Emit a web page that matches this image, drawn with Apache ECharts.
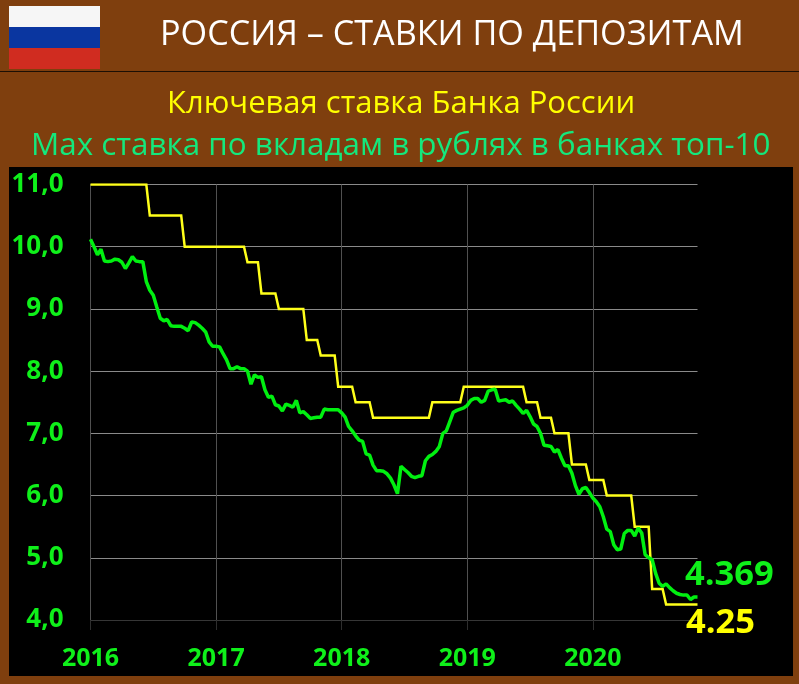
<!DOCTYPE html>
<html><head><meta charset="utf-8">
<style>html,body{margin:0;padding:0;background:#7f3f0e}#c{width:799px;height:684px}</style>
<script src="https://cdn.jsdelivr.net/npm/echarts@6/dist/echarts.min.js"></script>
</head><body><div id="c"></div>
<script>
const titleText = 'РОССИЯ – СТАВКИ ПО ДЕПОЗИТАМ';
const subtitleKey = 'Ключевая ставка Банка России';
const subtitleMax = 'Max ставка по вкладам в рублях в банках топ-10';
const lastDepositLabel = '4.369';
const lastKeyLabel = '4.25';
const years = [2016, 2017, 2018, 2019, 2020];
const keyRate = [
11,11,11,11,11,11,11,11,11,11,11,11,11,11,11,11,11,
10.5,10.5,10.5,10.5,10.5,10.5,10.5,10.5,10.5,10.5,
10,10,10,10,10,10,10,10,10,10,10,10,10,10,10,10,10,10,
9.75,9.75,9.75,9.75,
9.25,9.25,9.25,9.25,9.25,
9,9,9,9,9,9,9,9,
8.5,8.5,8.5,8.5,
8.25,8.25,8.25,8.25,8.25,
7.75,7.75,7.75,7.75,7.75,
7.5,7.5,7.5,7.5,7.5,
7.25,7.25,7.25,7.25,7.25,7.25,7.25,7.25,7.25,7.25,7.25,7.25,7.25,7.25,7.25,7.25,7.25,
7.5,7.5,7.5,7.5,7.5,7.5,7.5,7.5,7.5,
7.75,7.75,7.75,7.75,7.75,7.75,7.75,7.75,7.75,7.75,7.75,7.75,7.75,7.75,7.75,7.75,7.75,7.75,
7.5,7.5,7.5,7.5,
7.25,7.25,7.25,7.25,
7,7,7,7,7,
6.5,6.5,6.5,6.5,6.5,
6.25,6.25,6.25,6.25,6.25,
6,6,6,6,6,6,6,6,
5.5,5.5,5.5,5.5,5.5,
4.5,4.5,4.5,4.5,
4.25,4.25,4.25,4.25,4.25,4.25,4.25,4.25,4.25,4.25
];
const depositRate = [
10.12,10.0,9.87,9.96,9.77,9.76,9.77,9.8,9.79,9.75,9.65,9.74,9.84,9.77,9.76,9.76,9.44,9.3,9.22,9.03,
8.85,8.81,8.83,8.73,8.72,8.72,8.72,8.69,8.65,8.79,8.78,8.74,8.69,8.63,8.47,8.4,8.4,8.39,8.28,8.18,
8.04,8.04,8.07,8.04,8.04,8.0,7.79,7.94,7.9,7.91,7.7,7.58,7.6,7.46,7.44,7.36,7.47,7.45,7.42,7.53,
7.33,7.35,7.3,7.24,7.25,7.26,7.26,7.39,7.38,7.38,7.38,7.38,7.33,7.26,7.11,7.04,6.96,6.89,6.87,6.67,
6.65,6.49,6.4,6.4,6.39,6.35,6.28,6.17,6.03,6.47,6.42,6.37,6.31,6.29,6.31,6.32,6.56,6.63,6.66,6.71,
6.79,7.0,7.04,7.19,7.34,7.37,7.39,7.41,7.45,7.53,7.56,7.56,7.5,7.53,7.68,7.7,7.71,7.52,7.53,7.54,
7.5,7.52,7.45,7.39,7.32,7.37,7.27,7.15,7.11,7.0,6.81,6.8,6.79,6.7,6.74,6.6,6.48,6.48,6.36,6.16,
6.02,6.11,6.13,6.05,5.96,5.9,5.82,5.66,5.46,5.42,5.21,5.13,5.14,5.39,5.44,5.44,5.35,5.48,5.4,5.05,
5.0,4.97,4.75,4.59,4.54,4.58,4.52,4.47,4.43,4.41,4.4,4.4,4.33,4.37,4.369
];
const categories = depositRate.map((_, i) => String(years[0] + Math.floor(i / 36)));

const GREEN = '#0ff01a', YELLOW = '#ffff1a', BROWN = '#7f3f0e';
const FONT = '"Open Sans","Noto Sans",sans-serif';
const chart = echarts.init(document.getElementById('c'), null, {renderer: 'canvas'});
function txt(text, x, y, size, fill, weight) {
  return {type: 'text', z: 10, x, y,
    style: {text, fontFamily: FONT, fontSize: size, fill, fontWeight: weight || 'normal', textVerticalAlign: 'middle', textAlign: 'left'}};
}
chart.setOption({
  animation: false,
  backgroundColor: BROWN,
  grid: {left: 90.5, top: 184.5, width: 607, height: 435.5, containLabel: false},
  xAxis: {
    type: 'category', data: categories, boundaryGap: false,
    axisLine: {show: false},
    axisTick: {show: true, interval: 35, length: 10, lineStyle: {color: '#2e2e2e', width: 1}},
    axisLabel: {interval: 35, color: GREEN, fontFamily: FONT, fontWeight: 'bold', fontSize: 25, margin: 26, hideOverlap: false},
    splitLine: {show: true, interval: 35, lineStyle: {color: '#505050', width: 1}}
  },
  yAxis: {
    type: 'value', min: 4, max: 11, interval: 1,
    axisLine: {show: false}, axisTick: {show: false},
    axisLabel: {color: GREEN, fontFamily: FONT, fontWeight: 'bold', fontSize: 26, margin: 27,
      formatter: v => v.toFixed(1).replace('.', ',')},
    splitLine: {show: true, lineStyle: {color: ['#363636', '#8a8a8a', '#8a8a8a', '#8a8a8a', '#8a8a8a', '#8a8a8a', '#8a8a8a', '#8a8a8a'], width: 1}}
  },
  series: [
    {name: 'Ключевая ставка', type: 'line', data: keyRate, showSymbol: false, symbol: 'none', z: 3,
      lineStyle: {color: YELLOW, width: 2.5, join: 'miter'}},
    {name: 'Max ставка', type: 'line', data: depositRate, showSymbol: false, symbol: 'none', z: 4,
      lineStyle: {color: '#00f010', width: 3.5}}
  ],
  graphic: [
    {type: 'rect', z: -10, shape: {x: 9, y: 167, width: 784, height: 509}, style: {fill: '#000'}},
    {type: 'rect', z: 1, silent: true, shape: {x: 0, y: 71, width: 799, height: 1}, style: {fill: '#1d0f04'}},
    {type: 'rect', z: 1, shape: {x: 9, y: 6, width: 91, height: 21}, style: {fill: '#f6f6f6'}},
    {type: 'rect', z: 1, shape: {x: 9, y: 27, width: 91, height: 21}, style: {fill: '#0a36a0'}},
    {type: 'rect', z: 1, shape: {x: 9, y: 48, width: 91, height: 21}, style: {fill: '#d02c20'}},
    txt(titleText, 160, 35, 34.2, '#ffffff'),
    txt(subtitleKey, 167, 104, 31, '#ffff00'),
    txt(subtitleMax, 31, 146, 31.4, '#14e87c'),
    txt(lastDepositLabel, 685, 575, 34.5, GREEN, 'bold'),
    txt(lastKeyLabel, 686, 623, 34.5, '#ffff00', 'bold')
  ]
});
</script></body></html>
